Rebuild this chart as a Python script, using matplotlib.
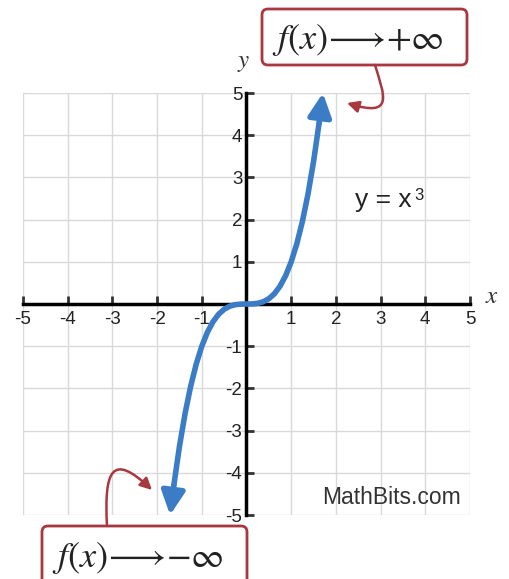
import matplotlib
matplotlib.use("Agg")
import matplotlib.pyplot as plt
from matplotlib.patches import FancyBboxPatch, FancyArrowPatch
from matplotlib.path import Path
from matplotlib.transforms import Affine2D

plt.rcParams["font.family"] = ["Liberation Sans", "DejaVu Sans"]
plt.rcParams["mathtext.fontset"] = "stix"

# curve points (y = x^3)
curve_x = [-1.71, -1.625, -1.5, -1.375, -1.25, -1.125, -1.0, -0.875, -0.75, -0.625,
           -0.5, -0.375, -0.25, -0.125, 0.0, 0.125, 0.25, 0.375, 0.5, 0.625, 0.75,
           0.875, 1.0, 1.125, 1.25, 1.375, 1.5, 1.625, 1.71]
curve_y = [-5.0, -4.291, -3.375, -2.6, -1.953, -1.424, -1.0, -0.67, -0.422, -0.244,
           -0.125, -0.053, -0.016, -0.002, 0.0, 0.002, 0.016, 0.053, 0.125, 0.244, 0.422,
           0.67, 1.0, 1.424, 1.953, 2.6, 3.375, 4.291, 5.0]
ticks = [-5, -4, -3, -2, -1, 1, 2, 3, 4, 5]
grid_vals = [-5, -4, -3, -2, -1, 0, 1, 2, 3, 4, 5]

blue = "#3b7cc6"
red = "#a8373f"

W, H = 510, 579
fig = plt.figure(figsize=(W / 100, H / 100), dpi=100)
ax = fig.add_axes([23 / W, (H - 515) / H, (470 - 23) / W, (515 - 93) / H])
ax.set_xlim(-5, 5)
ax.set_ylim(-5, 5)

# light grid
for v in grid_vals:
    ax.plot([v, v], [-5, 5], color="#d9d9d9", lw=1, zorder=0)
    ax.plot([-5, 5], [v, v], color="#d9d9d9", lw=1, zorder=0)

# axes through origin
for s in ["top", "right"]:
    ax.spines[s].set_visible(False)
ax.spines["left"].set_position(("data", 0))
ax.spines["bottom"].set_position(("data", 0))
ax.spines["left"].set_linewidth(2.5)
ax.spines["bottom"].set_linewidth(2.5)
ax.set_xticks(ticks)
ax.set_yticks(ticks)
ax.set_xticklabels([str(t) for t in ticks])
ax.set_yticklabels([str(t) for t in ticks])
ax.tick_params(direction="in", length=6, width=2, color="#333333",
               labelsize=13.5, labelcolor="#222222", pad=3)
ax.tick_params(axis="x", pad=5)
ax.patch.set_visible(False)

# the curve with arrow ends
ax.plot(curve_x[1:-1], curve_y[1:-1], color=blue, lw=4, solid_capstyle="round", zorder=3)
for i0, i1 in [(1, 0), (-2, -1)]:
    ax.annotate("", xy=(curve_x[i1], curve_y[i1]), xytext=(curve_x[i0], curve_y[i0]),
                arrowprops=dict(arrowstyle="-|>,head_length=0.7,head_width=0.35",
                                color=blue, lw=4, mutation_scale=20, shrinkA=0, shrinkB=0),
                zorder=3)

# decorations placed in figure pixels (origin at top-left)
px = Affine2D().scale(1, -1).translate(0, H)

ax.text(244, 62, "$y$", transform=px, fontsize=18, ha="center", va="center", color="#333333")
ax.text(492, 296, "$x$", transform=px, fontsize=18, ha="center", va="center", color="#333333")
ax.text(355, 207, "y = x", transform=px, fontsize=19, ha="left", va="baseline", color="#222222")
ax.text(414, 200, "3", transform=px, fontsize=12, ha="left", va="baseline", color="#222222")
ax.text(392, 498, "MathBits.com", transform=px, fontsize=16.5, ha="center", va="center",
        color="#333333")

# callout boxes
top_box = FancyBboxPatch((262, H - 65), 205, 56, boxstyle="round,pad=0,rounding_size=6",
                         transform=Affine2D(), fc="white", ec=red, lw=2, clip_on=False)
bot_box = FancyBboxPatch((42, -20), 205, H - 526 + 20, boxstyle="round,pad=0,rounding_size=6",
                         transform=Affine2D(), fc="white", ec=red, lw=2, clip_on=False)
fig.patches.extend([top_box, bot_box])
fig.text(358 / W, 1 - 40 / H, r"$f(x)\!\longrightarrow\!{+}\infty$", fontsize=26,
         ha="center", va="center", color="#222222")
fig.text(138 / W, 1 - 558 / H, r"$f(x)\!\longrightarrow\!{-}\infty$", fontsize=26,
         ha="center", va="center", color="#222222")

# curved connectors with arrows
top_path = Path([(375, H - 65), (384, H - 95), (395, H - 118), (347, H - 103)],
                [Path.MOVETO, Path.CURVE4, Path.CURVE4, Path.CURVE4])
bot_path = Path([(107, H - 526), (104, H - 470), (112, H - 452), (152, H - 490)],
                [Path.MOVETO, Path.CURVE4, Path.CURVE4, Path.CURVE4])
for p in [top_path, bot_path]:
    arr = FancyArrowPatch(path=p, arrowstyle="-|>,head_length=0.5,head_width=0.25",
                          mutation_scale=14, color=red, lw=1.8, transform=Affine2D())
    fig.patches.append(arr)

fig.savefig("out.png", dpi=100)
